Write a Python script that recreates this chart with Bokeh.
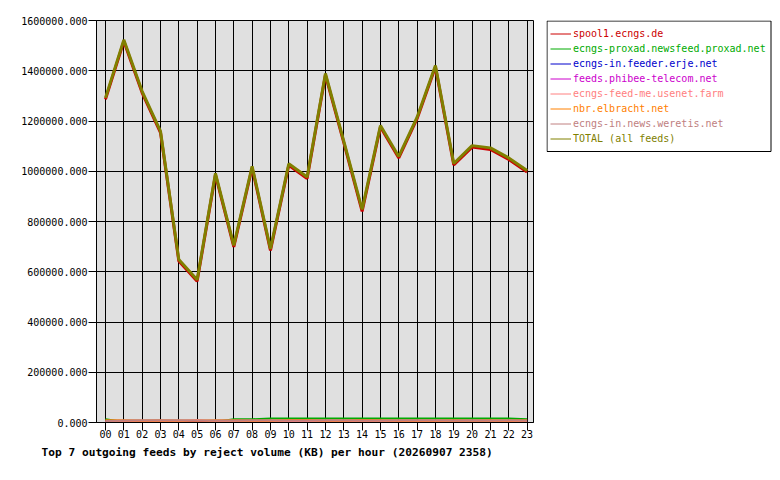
from bokeh.plotting import figure
from bokeh.layouts import row
from bokeh.models import (FixedTicker, PrintfTickFormatter, Legend, LegendItem, Range1d,
                          BoxAnnotation)
from bokeh.embed import file_html
from bokeh.resources import INLINE

hours = [0, 1, 2, 3, 4, 5, 6, 7, 8, 9, 10, 11, 12, 13, 14, 15, 16, 17, 18, 19, 20, 21, 22, 23]
hour_labels = ["00", "01", "02", "03", "04", "05", "06", "07", "08", "09", "10", "11",
               "12", "13", "14", "15", "16", "17", "18", "19", "20", "21", "22", "23"]
y_ticks = [0, 200000, 400000, 600000, 800000, 1000000, 1200000, 1400000, 1600000]

spool1 = [1286000, 1517000, 1312000, 1154000, 643000, 562000, 986000, 699000, 1014000, 685000,
          1024000, 971000, 1383000, 1114000, 840000, 1176000, 1053000, 1209000, 1415000, 1025000,
          1096000, 1087000, 1047000, 997000]
proxad = [13000, 2000, 2000, 2000, 2000, 2000, 2000, 13000, 13000, 16000, 16000, 16000, 16000,
          16000, 16000, 16000, 16000, 16000, 16000, 16000, 16000, 16000, 16000, 13000]
erje = [1000, 1000, 1000, 1000, 1000, 1000, 1000, 1000, 1000, 1000, 1000, 1000, 1000, 1000,
        1000, 1000, 1000, 1000, 1000, 1000, 1000, 1000, 1000, 1000]
phibee = [1500, 1500, 1500, 1500, 1500, 1500, 1500, 1500, 1500, 1500, 1500, 1500, 1500, 1500,
          1500, 1500, 1500, 1500, 1500, 1500, 1500, 1500, 1500, 1500]
feedme = [3000, 3000, 3000, 4000, 5000, 9500, 4000, 3000, 3000, 3000, 3000, 3000, 3000, 3000,
          3000, 3000, 3000, 3000, 3000, 3000, 3000, 3000, 3000, 3000]
elbracht = [9000, 9000, 8000, 9000, 8000, 7000, 9000, 9000, 8000, 8000, 9500, 9500, 8000, 8000,
            9500, 9000, 8000, 8000, 8000, 9000, 8000, 9000, 8000, 9000]
weretis = [6000, 8000, 8500, 8500, 8500, 8000, 8000, 8000, 8500, 8500, 8000, 8000, 8500, 8500,
           8000, 8000, 8500, 8500, 8500, 8000, 8500, 8000, 8500, 8000]
total = [1292000, 1523000, 1318000, 1160000, 649000, 568000, 992000, 705000, 1020000, 691000,
         1030000, 977000, 1389000, 1120000, 848000, 1182000, 1059000, 1215000, 1421000, 1031000,
         1102000, 1093000, 1053000, 1003000]

names = ["spool1.ecngs.de", "ecngs-proxad.newsfeed.proxad.net", "ecngs-in.feeder.erje.net",
         "feeds.phibee-telecom.net", "ecngs-feed-me.usenet.farm", "nbr.elbracht.net",
         "ecngs-in.news.weretis.net", "TOTAL (all feeds)"]
series = [spool1, proxad, erje, phibee, feedme, elbracht, weretis, total]
colors = ["#cc0000", "#00aa00", "#0000cc", "#cc00cc", "#ff8080", "#ff8000", "#c08080", "#808000"]
widths = [3, 2, 2, 2, 2, 2, 2, 3]

MONO = "DejaVu Sans Mono"

p = figure(width=546, height=480, output_backend="svg", toolbar_location=None,
           x_range=Range1d(-0.49, 23.35), y_range=Range1d(0, 1600000),
           min_border_left=96, min_border_right=13, min_border_top=20, min_border_bottom=58,
           title_location="below")

p.background_fill_color = "#e0e0e0"
p.border_fill_color = "white"
p.outline_line_color = "black"
p.outline_line_width = 1
p.outline_line_alpha = 1

p.xaxis.ticker = FixedTicker(ticks=hours)
p.xaxis.major_label_overrides = {h: lab for h, lab in zip(hours, hour_labels)}
p.yaxis.ticker = FixedTicker(ticks=y_ticks)
p.yaxis.formatter = PrintfTickFormatter(format="%.3f")
for ax in (p.xaxis, p.yaxis):
    ax.axis_line_color = "black"
    ax.major_tick_line_color = "black"
    ax.major_tick_in = 0
    ax.major_tick_out = 8
    ax.minor_tick_line_color = None
    ax.major_label_text_font = MONO
    ax.major_label_text_font_size = "10px"
    ax.major_label_text_color = "black"
p.xaxis.major_label_standoff = -1
p.yaxis.major_label_standoff = 1

p.xgrid.ticker = FixedTicker(ticks=hours)
p.ygrid.ticker = FixedTicker(ticks=y_ticks)
for g in (p.xgrid, p.ygrid):
    g.grid_line_color = "black"
    g.grid_line_alpha = 1
    g.grid_line_width = 1

p.title.text = "Top 7 outgoing feeds by reject volume (KB) per hour (20260907 2358)"
p.title.text_font = MONO
p.title.text_font_style = "bold"
p.title.text_font_size = "11.2px"
p.title.align = "left"
p.title.offset = -55
p.title.standoff = 7
p.title.text_color = "black"

for name, vals, col, w in zip(names, series, colors, widths):
    p.line(hours, vals, line_color=col, line_width=w)

# legend panel on the right (same vertical borders as the chart; units = pixels)
lf = figure(width=234, height=480, output_backend="svg", toolbar_location=None,
            x_range=Range1d(0, 226), y_range=Range1d(0, 402),
            x_axis_type=None, y_axis_type=None,
            min_border_left=0, min_border_right=8, min_border_top=20, min_border_bottom=58)
lf.background_fill_color = "white"
lf.border_fill_color = "white"
lf.outline_line_color = None
lf.xgrid.visible = False
lf.ygrid.visible = False

lf.add_layout(BoxAnnotation(left=0.5, right=224.5, bottom=271, top=401.5,
                            fill_color="white", fill_alpha=1, line_color="black",
                            line_width=1, line_alpha=1))

for i, (name, col) in enumerate(zip(names, colors)):
    ln = lf.line([-50, -40], [-50, -40], line_color=col, line_width=1)
    lg = Legend(items=[LegendItem(label=name, renderers=[ln])],
                location=(4, 381 - 15 * i), orientation="vertical",
                padding=0, margin=0, spacing=0,
                glyph_width=21, glyph_height=15, label_height=15, label_standoff=2,
                label_text_font=MONO, label_text_font_size="10px", label_text_color=col,
                background_fill_alpha=0, border_line_color=None)
    lg.label_text_baseline = "middle"
    lf.add_layout(lg, "center")

layout = row(p, lf)
open("out.html", "w").write(file_html(layout, INLINE))
